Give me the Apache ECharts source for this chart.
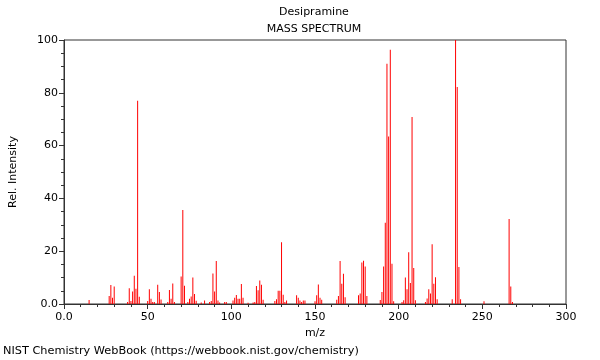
<!DOCTYPE html>
<html>
<head>
<meta charset="utf-8">
<script src="https://cdn.jsdelivr.net/npm/echarts@6/dist/echarts.min.js"></script>
<style>
html,body{margin:0;padding:0;background:#fff;}
#c{width:600px;height:360px;}
</style>
</head>
<body>
<div id="c"></div>
<script>
const titleLines = ['Desipramine', 'MASS SPECTRUM'];
const footer = 'NIST Chemistry WebBook (https://webbook.nist.gov/chemistry)';
const xName = 'm/z';
const yName = 'Rel. Intensity';
const mz = [15,27,28,29,30,38,39,40,41,42,43,44,45,50,51,52,53,54,56,57,58,62,63,64,65,66,
  70,71,72,74,75,76,77,78,79,82,84,87,88,89,90,91,92,93,96,97,
  101,102,103,104,105,106,107,110,113,114,115,116,117,118,119,
  126,127,128,129,130,131,132,133,139,140,141,142,143,144,
  150,151,152,153,154,163,164,165,166,167,168,176,177,178,179,180,181,
  189,190,191,192,193,194,195,196,197,202,203,204,205,206,207,208,209,210,
  216,217,218,219,220,221,222,223,232,234,235,236,237,251,266,267,268];
const intensity = [1.5,3,7.2,2.4,6.6,0.8,6,1.1,4.7,10.7,5.8,77,2.7,1.1,5.6,2,0.8,0.8,7.3,4.5,1.7,0.8,5.3,2,7.8,0.8,
  10.4,35.6,6.9,0.8,2,2.8,10,3.8,1.2,0.6,1.3,0.8,1.1,11.6,4.7,16.3,1.3,0.6,0.8,0.8,
  1.3,2.4,3.4,2,2,7.6,2.4,0.5,0.6,0.8,6.8,5.2,8.9,7.3,1.6,
  1.1,1.8,5,5,23.4,3.5,0.8,1.3,3.3,2.4,1.3,0.8,1.3,1.3,
  1,3.3,7.4,2.4,1.6,1.6,3,16.3,7.7,11.5,2.6,3.3,4,15.7,16.4,14.2,3,
  1.5,4.5,14.2,30.8,91,63.4,96.3,15.2,1,0.8,1.4,10,5.6,19.6,8,70.8,13.6,1.4,
  0.8,2.1,5.6,4,22.6,7.7,10.1,1.8,1.8,100,82.2,14,1.8,1,32.2,6.6,0.8];

const F = 'DejaVu Sans';
const chart = echarts.init(document.getElementById('c'));
chart.setOption({
  animation: false,
  backgroundColor: '#fff',
  textStyle: {fontFamily: F},
  title: [
    {text: titleLines[0], left: 314, top: 7, textAlign: 'center', padding: 0,
     textStyle: {fontFamily: F, fontSize: 11, fontWeight: 'normal', color: '#000'}},
    {text: titleLines[1], left: 314, top: 24, textAlign: 'center', padding: 0,
     textStyle: {fontFamily: F, fontSize: 11, fontWeight: 'normal', color: '#000'}},
    {text: footer, left: 3, top: 346, padding: 0,
     textStyle: {fontFamily: F, fontSize: 11.3, fontWeight: 'normal', color: '#000'}}
  ],
  grid: {left: 62, right: 34, top: 40, bottom: 56, show: true, borderColor: '#333', borderWidth: 1, backgroundColor: 'transparent'},
  xAxis: {
    type: 'value', min: 0, max: 300, interval: 50,
    name: xName, nameLocation: 'middle', nameGap: 24,
    nameTextStyle: {fontFamily: F, fontSize: 11, color: '#000'},
    axisLine: {show: true, lineStyle: {color: '#333', width: 1}},
    axisTick: {show: true, inside: false, length: 5, lineStyle: {color: '#333'}},
    minorTick: {show: true, splitNumber: 5, length: 3, lineStyle: {color: '#333'}},
    splitLine: {show: false},
    axisLabel: {fontFamily: F, fontSize: 11, color: '#000', margin: 8,
      formatter: v => v === 0 ? '0.0' : String(v)}
  },
  yAxis: {
    type: 'value', min: 0, max: 100, interval: 20,
    name: yName, nameLocation: 'middle', nameGap: 45, nameRotate: 90,
    nameTextStyle: {fontFamily: F, fontSize: 11, color: '#000'},
    axisLine: {show: true, lineStyle: {color: '#333', width: 1}},
    axisTick: {show: true, inside: false, length: 5, lineStyle: {color: '#333'}},
    minorTick: {show: true, splitNumber: 4, length: 3, lineStyle: {color: '#333'}},
    splitLine: {show: false},
    axisLabel: {fontFamily: F, fontSize: 11, color: '#000', margin: 6,
      formatter: v => v === 0 ? '0.0' : String(v)}
  },
  series: [{
    type: 'bar',
    barWidth: 1,
    barGap: '-100%',
    itemStyle: {color: '#ff0000'},
    data: mz.map((m, i) => [m, intensity[i]])
  }]
});
</script>
</body>
</html>
